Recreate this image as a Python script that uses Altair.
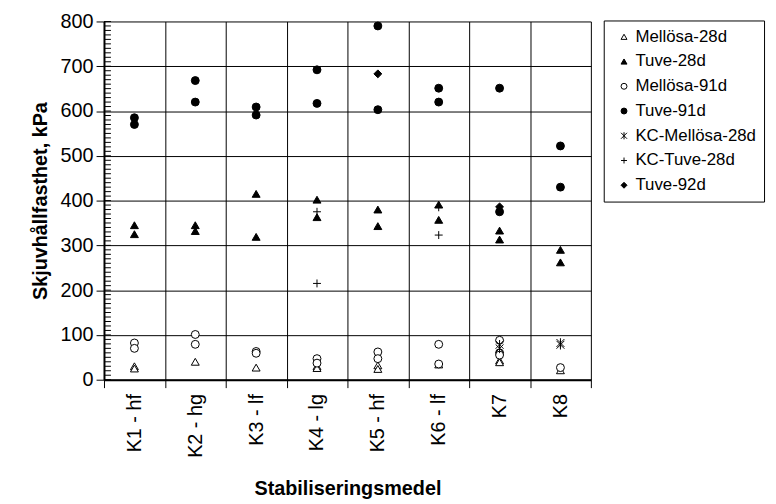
import altair as alt
import pandas as pd

categories = ["K1 - hf", "K2 - hg", "K3 - lf", "K4 - lg", "K5 - hf", "K6 - lf", "K7", "K8"]
series_names = ["Mellösa-28d", "Tuve-28d", "Mellösa-91d", "Tuve-91d",
                "KC-Mellösa-28d", "KC-Tuve-28d", "Tuve-92d"]

# values per series: category -> list of measured values (kPa)
mellosa_28d = {"K1 - hf": [30, 25], "K2 - hg": [40], "K3 - lf": [27], "K4 - lg": [30, 26],
               "K5 - hf": [32, 24], "K6 - lf": [34], "K7": [43, 39], "K8": [21]}
tuve_28d = {"K1 - hf": [345, 325], "K2 - hg": [345, 332], "K3 - lf": [415, 319], "K4 - lg": [402, 363],
            "K5 - hf": [380, 343], "K6 - lf": [391, 357], "K7": [333, 313], "K8": [290, 262]}
mellosa_91d = {"K1 - hf": [82, 70], "K2 - hg": [101, 79], "K3 - lf": [63, 59], "K4 - lg": [47, 37],
               "K5 - hf": [62, 47], "K6 - lf": [79, 35], "K7": [88, 60, 55], "K8": [27]}
tuve_91d = {"K1 - hf": [585, 570], "K2 - hg": [668, 620], "K3 - lf": [609, 591], "K4 - lg": [692, 617],
            "K5 - hf": [790, 603], "K6 - lf": [651, 620], "K7": [651, 375], "K8": [522, 430]}
kc_mellosa_28d = {"K7": [78, 70], "K8": [82, 78]}
kc_tuve_28d = {"K4 - lg": [375, 215], "K6 - lf": [385, 323]}
tuve_92d = {"K5 - hf": [683], "K7": [386]}

all_series = [mellosa_28d, tuve_28d, mellosa_91d, tuve_91d, kc_mellosa_28d, kc_tuve_28d, tuve_92d]

rows = []
for name, ser in zip(series_names, all_series):
    for cat, vals in ser.items():
        for v in vals:
            rows.append({"cat": cat, "val": v, "series": name})
df = pd.DataFrame(rows)

minor_ticks = list(range(0, 801, 10))
major_ticks = list(range(0, 801, 100))

shapes = ["triangle-up", "triangle-up", "circle", "circle",
          "M-1,-1L1,1M-1,1L1,-1M0,-1.2L0,1.2", "M-1,0L1,0M0,-1L0,1", "diamond"]
fills = ["white", "black", "white", "black", "black", "black", "black"]
strokes = ["black"] * 7

FONT = "Liberation Sans"

xenc = alt.X("cat:N", sort=categories,
             scale=alt.Scale(type="band", domain=categories, paddingInner=0, paddingOuter=0),
             axis=alt.Axis(title="Stabiliseringsmedel", labelAngle=-90, labelAlign="right",
                           labelBaseline="middle", labelPadding=6, tickBand="extent",
                           grid=True, gridColor="black", gridOpacity=1, gridWidth=1,
                           domainColor="black", domainWidth=2, tickColor="black", tickSize=8,
                           labelFontSize=20, labelColor="black", labelFont=FONT,
                           titleFontSize=20, titleFontWeight="bold", titleFont=FONT,
                           titleColor="black", titlePadding=22))

yscale = alt.Scale(domain=[0, 800], nice=False, zero=True)
yaxis = alt.Axis(orient="left", title="Skjuvhållfasthet, kPa", values=major_ticks, grid=True,
                 gridColor="black", gridOpacity=1, gridWidth=1,
                 domainColor="black", domainWidth=2, tickColor="black", tickSize=8,
                 labelFontSize=20, labelColor="black", labelFont=FONT, labelPadding=3,
                 titleFontSize=20, titleFontWeight="bold", titleFont=FONT,
                 titleColor="black", titlePadding=10)

points = alt.Chart(df).mark_point(size=64, opacity=1, strokeWidth=1).encode(
    x=xenc,
    y=alt.Y("val:Q", scale=yscale, axis=yaxis),
    shape=alt.Shape("series:N", scale=alt.Scale(domain=series_names, range=shapes),
                    legend=alt.Legend(title=None)),
    fill=alt.Fill("series:N", scale=alt.Scale(domain=series_names, range=fills),
                  legend=alt.Legend(title=None)),
    stroke=alt.Stroke("series:N", scale=alt.Scale(domain=series_names, range=strokes),
                      legend=alt.Legend(title=None)),
)

# inward minor ticks every 10 kPa along the y axis
minor = alt.Chart(pd.DataFrame({"v": minor_ticks})).mark_tick(
    orient="horizontal", size=7, thickness=1, color="black", opacity=1
).encode(
    y=alt.Y("v:Q", scale=yscale, axis=None),
    x=alt.value(3.5),
)

chart = alt.layer(points, minor).resolve_axis(y="independent").properties(
    width=492, height=362,
    padding={"left": 97, "top": 11, "right": 179, "bottom": 123},
    autosize=alt.AutoSizeParams(type="none"),
).configure_view(stroke=None).configure_legend(
    orient="none", legendX=505, legendY=-1, strokeColor="black", fillColor="white",
    padding=8, symbolOffset=4, labelFontSize=17, labelFont=FONT, labelColor="black",
    symbolSize=36, symbolStrokeWidth=1, rowPadding=7,
    labelOffset=3, cornerRadius=0
)

chart.save("out.html", embed_options={"renderer": "svg", "actions": False})
